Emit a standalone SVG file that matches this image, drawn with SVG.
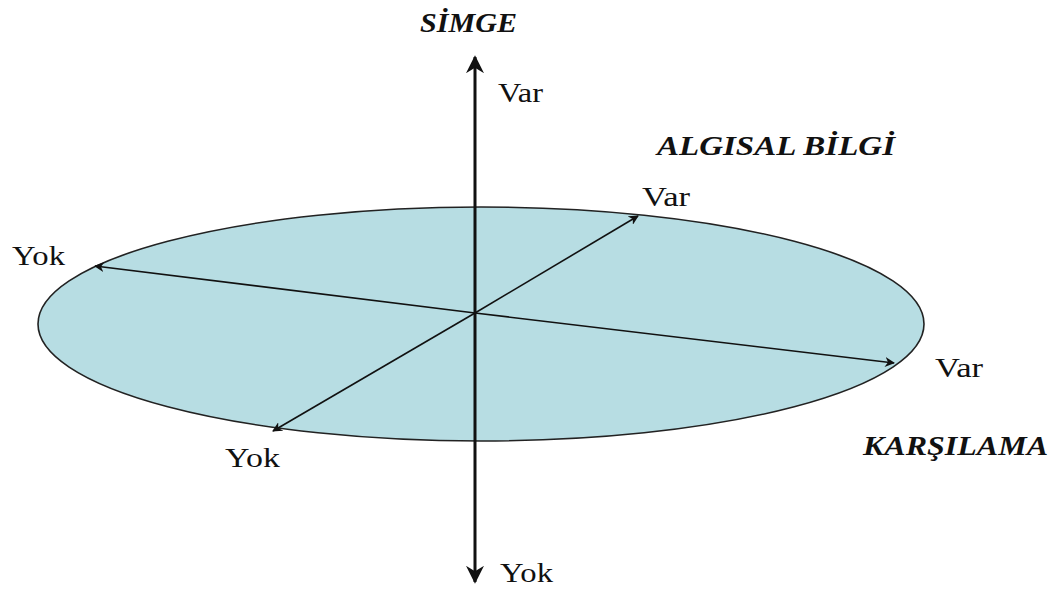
<svg xmlns="http://www.w3.org/2000/svg" width="1055" height="589" viewBox="0 0 1055 589">
<style>
.lbl{font-family:"Liberation Serif",serif;font-size:28px;fill:#111}
.ttl{font-family:"Liberation Serif",serif;font-size:28px;font-weight:bold;font-style:italic;fill:#111}
.thin{stroke:#111;stroke-width:1.6;fill:none}
</style>
<defs>
<marker id="ah" viewBox="0 0 10 10" refX="9" refY="5" markerWidth="10" markerHeight="10" markerUnits="userSpaceOnUse" orient="auto">
<path d="M0,0 L10,5 L0,10 L3,5 Z" fill="#111"/>
</marker>
<marker id="ahb" viewBox="0 0 10 10" refX="9" refY="5" markerWidth="6" markerHeight="6" orient="auto">
<path d="M0,0 L10,5 L0,10 L3,5 Z" fill="#111"/>
</marker>
</defs>
<rect width="1055" height="589" fill="#fff"/>
<g id="plane">
<ellipse cx="481" cy="324" rx="443" ry="117" fill="#B7DDE3" stroke="#222" stroke-width="1.6"/>
</g>
<g id="connectors">
<line class="thin" x1="475" y1="313" x2="638" y2="216" marker-end="url(#ah)"/>
<line class="thin" x1="475" y1="313" x2="273" y2="431" marker-end="url(#ah)"/>
<line class="thin" x1="475" y1="313" x2="95" y2="266" marker-end="url(#ah)"/>
<line class="thin" x1="475" y1="313" x2="894" y2="363" marker-end="url(#ah)"/>
<line x1="475" y1="320" x2="475" y2="57" stroke="#111" stroke-width="3" marker-end="url(#ahb)"/>
<line x1="475" y1="320" x2="475" y2="582" stroke="#111" stroke-width="3" marker-end="url(#ahb)"/>
</g>
<g id="simge"><text class="ttl" x="420" y="32" textLength="97" lengthAdjust="spacingAndGlyphs">SİMGE</text></g>
<g id="simge-var"><text class="lbl" x="498" y="102" textLength="45" lengthAdjust="spacingAndGlyphs">Var</text></g>
<g id="simge-yok"><text class="lbl" x="500" y="582" textLength="53" lengthAdjust="spacingAndGlyphs">Yok</text></g>
<g id="algisal"><text class="ttl" x="657" y="155" textLength="238" lengthAdjust="spacingAndGlyphs">ALGISAL BİLGİ</text></g>
<g id="algisal-var"><text class="lbl" x="642" y="206" textLength="48" lengthAdjust="spacingAndGlyphs">Var</text></g>
<g id="algisal-yok"><text class="lbl" x="225" y="467" textLength="55" lengthAdjust="spacingAndGlyphs">Yok</text></g>
<g id="karsilama"><text class="ttl" x="863" y="455" textLength="185" lengthAdjust="spacingAndGlyphs">KARŞILAMA</text></g>
<g id="karsilama-var"><text class="lbl" x="935" y="377" textLength="48" lengthAdjust="spacingAndGlyphs">Var</text></g>
<g id="karsilama-yok"><text class="lbl" x="12" y="265" textLength="53" lengthAdjust="spacingAndGlyphs">Yok</text></g>
</svg>
